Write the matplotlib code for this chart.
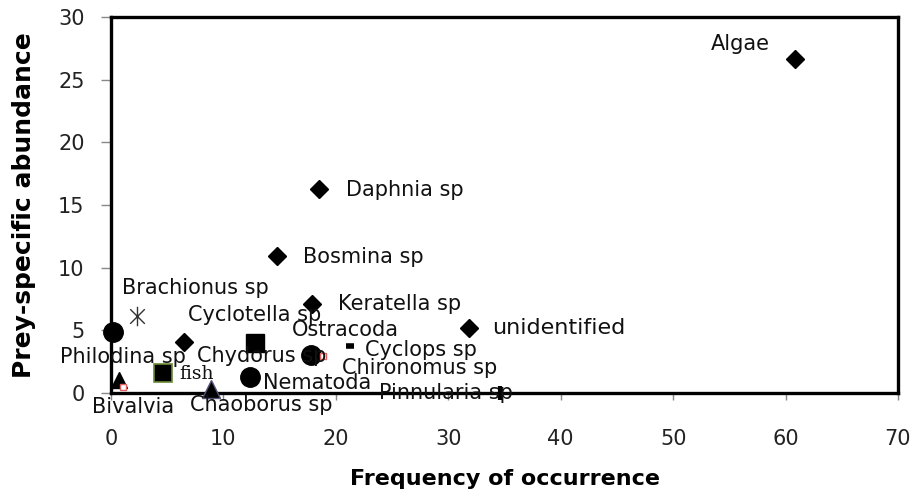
import matplotlib
matplotlib.use("Agg")
import matplotlib.pyplot as plt
from matplotlib.path import Path

# ---- data ----
names = ["Algae", "Daphnia sp", "Bosmina sp", "Keratella sp", "unidentified",
         "Cyclotella sp", "Brachionus sp", "Philodina sp", "Chydorus sp",
         "Ostracoda", "Cyclops sp", "Chironomus sp", "Nematoda", "Chaoborus sp",
         "fish", "Bivalvia", "", "Pinnularia sp"]
freq = [60.8, 18.5, 14.8, 17.9, 31.8, 6.5, 2.3, 0.2, 12.8,
        17.8, 21.3, 18.9, 12.4, 8.9, 4.6, 0.7, 1.1, 34.6]
abund = [26.65, 16.3, 10.9, 7.1, 5.2, 4.07, 6.15, 4.87, 4.0,
         3.03, 3.75, 2.95, 1.28, 0.35, 1.6, 1.05, 0.48, 0.0]
x_ticks = [0, 10, 20, 30, 40, 50, 60, 70]
y_ticks = [0, 5, 10, 15, 20, 25, 30]

# ---- styles ----
asterisk = Path([(0, -1), (0, 1), (-0.75, -0.75), (0.75, 0.75), (-0.75, 0.75), (0.75, -0.75)],
                [Path.MOVETO, Path.LINETO, Path.MOVETO, Path.LINETO, Path.MOVETO, Path.LINETO])
D = dict(marker="D", ms=9.5, mfc="black", mec="black")
styles = {
    "Algae": D, "Daphnia sp": D, "Bosmina sp": D, "Keratella sp": D,
    "unidentified": D, "Cyclotella sp": D,
    "Brachionus sp": dict(marker=asterisk, ms=14, mfc="none", mec="#333333", mew=1.0),
    "Philodina sp": dict(marker="o", ms=14, mfc="black", mec="black"),
    "Chydorus sp": dict(marker="s", ms=13, mfc="black", mec="black"),
    "Ostracoda": dict(marker="o", ms=14, mfc="black", mec="black"),
    "Cyclops sp": dict(marker="_", ms=6, mec="black", mew=4),
    "Chironomus sp": dict(marker="s", ms=4, mfc="white", mec="#e06060", mew=1.0),
    "Nematoda": dict(marker="o", ms=14, mfc="black", mec="black"),
    "Chaoborus sp": dict(marker="^", ms=13, mfc="black", mec="#555577"),
    "fish": dict(marker="s", ms=13, mfc="black", mec="#6a8a3a", mew=1.2),
    "Bivalvia": dict(marker="^", ms=12, mfc="black", mec="black"),
    "": dict(marker="s", ms=4, mfc="white", mec="#e06060", mew=1.0),
    "Pinnularia sp": dict(marker="|", ms=10, mec="black", mew=3),
}
# label offsets (pixels) from point to label left edge / vertical centre
offsets = {
    "Algae": (-84, 15), "Daphnia sp": (27, -1), "Bosmina sp": (26, -1),
    "Keratella sp": (26, 0), "unidentified": (24, 0), "Cyclotella sp": (4, 27),
    "Brachionus sp": (-15, 28), "Philodina sp": (-53, -25), "Chydorus sp": (-58, -13),
    "Ostracoda": (-19, 25), "Cyclops sp": (15, -4), "Chironomus sp": (19, -12),
    "Nematoda": (13, -6), "Chaoborus sp": (-21, -16), "fish": (17, -1),
    "Bivalvia": (-27, -27), "Pinnularia sp": (-121, 0),
}

fig = plt.figure(figsize=(9.15, 5.01), dpi=100)
ax = fig.add_axes([111/915, 1-393/501, (898-111)/915, (393-17)/501])

for n, x, y in zip(names, freq, abund):
    ax.plot([x], [y], linestyle="none", clip_on=False, zorder=3, **styles[n])
    if n:
        dx, dy = offsets[n]
        if n == "unidentified":
            fs, kw = 16, {}
        elif n == "fish":
            fs, kw = 13.5, dict(family="DejaVu Serif")
        else:
            fs, kw = 15, {}
        ax.annotate(n, (x, y), xytext=(dx, dy), textcoords="offset pixels",
                    ha="left", va="center", fontsize=fs, color="#111111", zorder=4,
                    annotation_clip=False, **kw)

ax.set_xlim(0, 70)
ax.set_ylim(0, 30)
ax.set_xticks(x_ticks)
ax.set_yticks(y_ticks)
ax.tick_params(direction="out", width=1, color="#888888",
               labelsize=15, labelcolor="#222222")
ax.tick_params(axis="y", length=7, pad=12)
ax.tick_params(axis="x", length=5, pad=21)
for s in ax.spines.values():
    s.set_linewidth(2.4)
    s.set_color("black")

ax.set_xlabel("Frequency of occurrence", fontsize=16, fontweight="bold", labelpad=14)
ax.set_ylabel("Prey-specific abundance", fontsize=18, fontweight="bold", labelpad=16)

fig.savefig("out.png", dpi=100)
